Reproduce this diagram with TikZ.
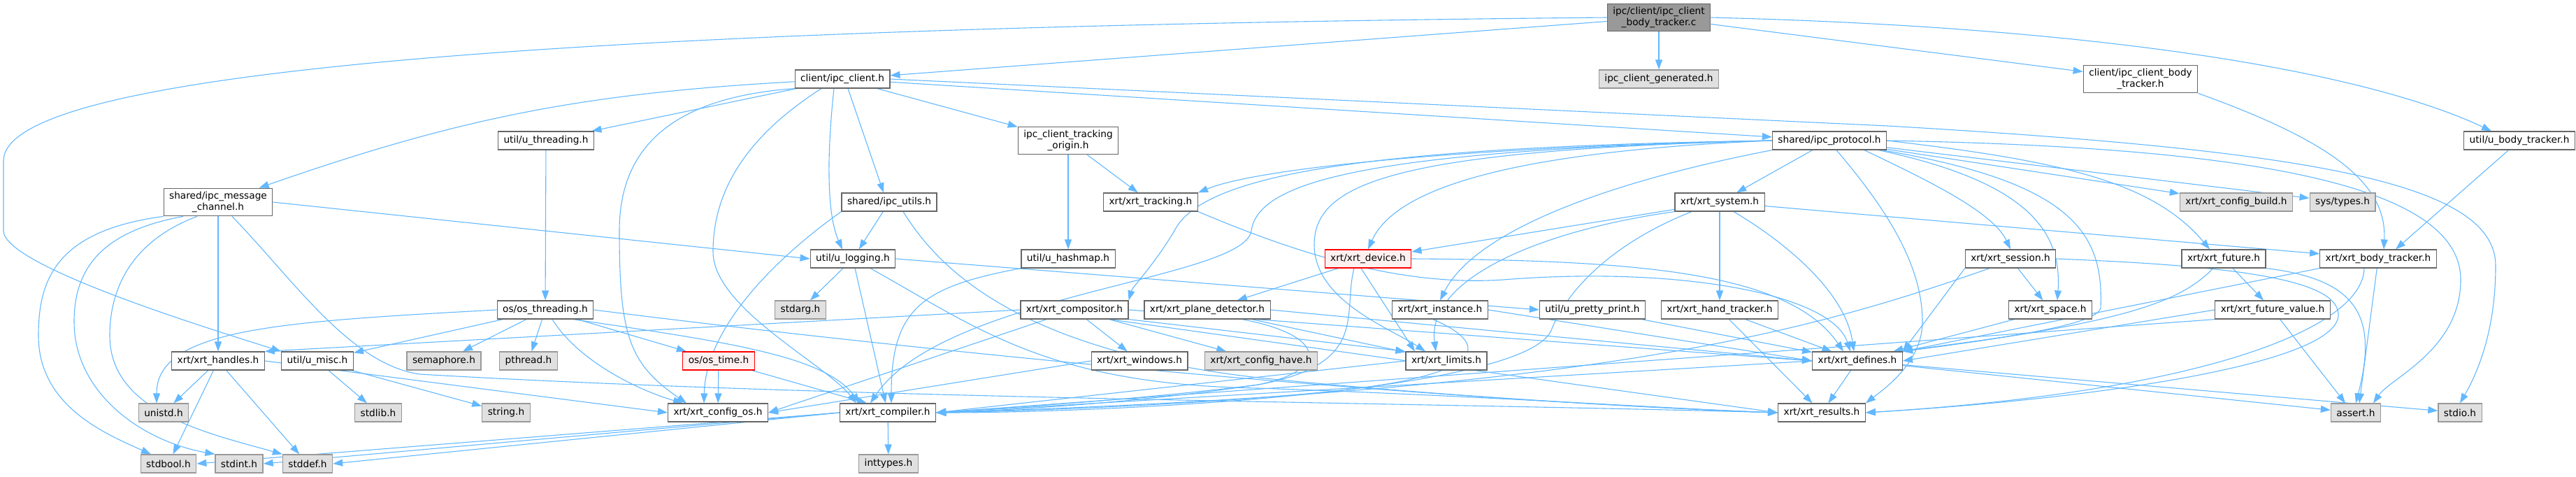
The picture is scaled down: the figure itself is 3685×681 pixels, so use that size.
\documentclass[tikz,border=0pt]{standalone}
\usepackage{fontspec}
\setmainfont{DejaVu Sans}
\usetikzlibrary{arrows.meta}
\pgfdeclarelayer{background}
\pgfsetlayers{background,main}
\definecolor{edgeblue}{HTML}{63B8FF}
\definecolor{nodeborder}{HTML}{666666}
\definecolor{extfill}{HTML}{E0E0E0}
\definecolor{extborder}{HTML}{999999}
\definecolor{rootfill}{HTML}{999999}
\definecolor{truncfill}{HTML}{FFF0F0}
\tikzset{
 fbox/.style={draw=nodeborder, fill=white, line width=1.2pt, inner xsep=8pt, inner ysep=5pt, minimum height=26pt, align=center},
 ext/.style={fbox, draw=extborder, fill=extfill},
 rootn/.style={fbox, fill=rootfill},
 trunc/.style={fbox, draw=red, fill=truncfill},
 edg/.style={draw=edgeblue, line width=1.1pt, -{Triangle[length=14pt,width=10pt]}}
}
\begin{document}
\begin{tikzpicture}[x=1pt,y=-1pt,font=\fontsize{13.7}{16}\selectfont]
\useasboundingbox (0,0) rectangle (3685,681);
% row 0
\node[rootn] (A) at (2373,25) {ipc/client/ipc\_client\\\_body\_tracker.c};
% row 1
\node[fbox] (B) at (1205,113) {client/ipc\_client.h};
\node[ext] (C) at (2373,113) {ipc\_client\_generated.h};
\node[fbox] (D) at (3062,113) {client/ipc\_client\_body\\\_tracker.h};
% row 2
\node[fbox] (H) at (781,201) {util/u\_threading.h};
\node[fbox] (I) at (1528,201) {ipc\_client\_tracking\\\_origin.h};
\node[fbox] (J) at (2617,201) {shared/ipc\_protocol.h};
\node[fbox] (E) at (3604,201) {util/u\_body\_tracker.h};
% row 3
\node[fbox] (G) at (312,289) {shared/ipc\_message\\\_channel.h};
\node[fbox] (K) at (1272,289) {shared/ipc\_utils.h};
\node[fbox] (R) at (1646,289) {xrt/xrt\_tracking.h};
\node[fbox] (T) at (2460,289) {xrt/xrt\_system.h};
\node[ext] (CB) at (3199,289) {xrt/xrt\_config\_build.h};
\node[ext] (ST) at (3351,289) {sys/types.h};
% row 4
\node[fbox] (L) at (1220,370) {util/u\_logging.h};
\node[fbox] (S) at (1528,370) {util/u\_hashmap.h};
\node[trunc] (U) at (1957,370) {xrt/xrt\_device.h};
\node[fbox] (SE) at (2876,370) {xrt/xrt\_session.h};
\node[fbox] (FU) at (3181,370) {xrt/xrt\_future.h};
\node[fbox] (O) at (3402,370) {xrt/xrt\_body\_tracker.h};
% row 5
\node[fbox] (Q) at (780,443) {os/os\_threading.h};
\node[ext] (SA) at (1145,443) {stdarg.h};
\node[fbox] (V) at (1537,443) {xrt/xrt\_compositor.h};
\node[fbox] (PD) at (1727,443) {xrt/xrt\_plane\_detector.h};
\node[fbox] (W) at (2060,443) {xrt/xrt\_instance.h};
\node[fbox] (PP) at (2278,443) {util/u\_pretty\_print.h};
\node[fbox] (HT) at (2460,443) {xrt/xrt\_hand\_tracker.h};
\node[fbox] (SP) at (2933,443) {xrt/xrt\_space.h};
\node[fbox] (FV) at (3251,443) {xrt/xrt\_future\_value.h};
% row 6
\node[fbox] (P) at (312,516) {xrt/xrt\_handles.h};
\node[fbox] (F) at (454,516) {util/u\_misc.h};
\node[ext] (SEM) at (635,516) {semaphore.h};
\node[ext] (PT) at (756,516) {pthread.h};
\node[trunc] (OT) at (1028,516) {os/os\_time.h};
\node[fbox] (WI) at (1630,516) {xrt/xrt\_windows.h};
\node[ext] (CH) at (1804,516) {xrt/xrt\_config\_have.h};
\node[fbox] (X) at (2069,516) {xrt/xrt\_limits.h};
\node[fbox] (Y) at (2657,516) {xrt/xrt\_defines.h};
% row 7
\node[ext] (UN) at (234,590) {unistd.h};
\node[ext] (SL) at (541,590) {stdlib.h};
\node[ext] (STR) at (724,590) {string.h};
\node[fbox] (M) at (1027,590) {xrt/xrt\_config\_os.h};
\node[fbox] (N) at (1270,590) {xrt/xrt\_compiler.h};
\node[fbox] (Z) at (2606,590) {xrt/xrt\_results.h};
\node[ext] (AS) at (3370,590) {assert.h};
\node[ext] (SI) at (3519,590) {stdio.h};
% row 8
\node[ext] (SB) at (241,663) {stdbool.h};
\node[ext] (SN) at (342,663) {stdint.h};
\node[ext] (SD) at (440,663) {stddef.h};
\node[ext] (IT) at (1271,663) {inttypes.h};

\begin{pgfonlayer}{background}
% root
\draw[edg] (A) -- (B);
\draw[edg] (A) -- (C);
\draw[edg] (A) -- (D);
\draw[edg] (A.east) .. controls (3050,40) and (3400,110) .. ([xshift=-40pt]E.north);
\draw[edg] (A.west) .. controls (700,40) and (5,110) .. (5,230) -- (5,330) .. controls (5,380) and (300,470) .. (F.north west);
% client/ipc_client.h
\draw[edg] (B) to[bend right=8] (G);
\draw[edg] (B) -- (H);
\draw[edg] (B) -- (I);
\draw[edg] (B) -- (J);
\draw[edg] ([xshift=8pt]B.south) -- ([xshift=-8pt]K.north);
\draw[edg] ([xshift=-12pt]B.south) .. controls (1185,200) and (1180,300) .. ([xshift=-15pt]L.north);
\draw[edg] (B.south west) .. controls (950,140) and (886,220) .. (886,330) .. controls (886,480) and (900,520) .. ([xshift=-45pt]M.north);
\draw[edg] ([xshift=-30pt]B.south) .. controls (1060,200) and (1020,280) .. (1020,360) .. controls (1020,440) and (1180,520) .. ([xshift=-45pt]N.north);
\draw[edg] (B.east) -- (2700,180) .. controls (3300,215) and (3570,260) .. (3570,380) .. controls (3570,480) and (3540,540) .. (SI.north);
% client body tracker header, u_body_tracker
\draw[edg] (D.south east) .. controls (3330,200) and (3415,260) .. ([xshift=8pt]O.north);
\draw[edg] (E) -- ([xshift=25pt]O.north);
% ipc_message_channel
\draw[edg] (G) -- (P);
\draw[edg] (G.east) -- (L.west);
\draw[edg] (G.south west) .. controls (80,330) and (55,400) .. (55,480) .. controls (55,580) and (150,620) .. ([xshift=-25pt]SB.north);
\draw[edg] ([xshift=-50pt]G.south) .. controls (150,330) and (106,380) .. (106,460) .. controls (106,560) and (200,630) .. (SN.north west);
\draw[edg] ([xshift=-30pt]G.south) .. controls (200,340) and (157,400) .. (157,480) .. controls (157,590) and (300,620) .. (SD.north west);
\draw[edg] ([xshift=20pt]G.south) .. controls (420,400) and (500,520) .. (600,535) .. controls (1200,570) and (2000,575) .. (Z.west);
% threading / tracking origin
\draw[edg] (H) -- (Q);
\draw[edg] (I) -- (R);
\draw[edg] (I) -- (S);
% ipc_utils
\draw[edg] (K) -- (L);
\draw[edg] (K.south west) .. controls (1150,340) and (1010,450) .. ([xshift=-20pt]M.north);
\draw[edg] ([xshift=20pt]K.south) .. controls (1340,380) and (1450,500) .. (1800,540) .. controls (2100,570) and (2400,585) .. (Z.west);
% ipc_protocol
\draw[edg] (J) -- (T);
\draw[edg] (J) -- (CB);
\draw[edg] (J) -- (ST);
\draw[edg] (J.west) .. controls (2100,210) and (1800,240) .. (R.north east);
\draw[edg] (J.west) .. controls (1950,210) and (1720,250) .. (1680,330) .. controls (1650,380) and (1620,410) .. (V.north east);
\draw[edg] (J.west) .. controls (1950,215) and (1800,260) .. (1790,330) .. controls (1780,400) and (1350,420) .. ([xshift=-25pt]N.north);
\draw[edg] (J.west) .. controls (2000,215) and (1880,260) .. (1880,350) .. controls (1880,430) and (1990,470) .. ([xshift=-30pt]X.north);
\draw[edg] (J.west) .. controls (2200,215) and (2000,260) .. (U.north);
\draw[edg] (J.south west) .. controls (2300,260) and (2110,330) .. (W.north);
\draw[edg] ([xshift=50pt]J.south) .. controls (2740,250) and (2850,300) .. (SE.north);
\draw[edg] (J.east) .. controls (2950,230) and (3080,260) .. ([xshift=-20pt]FU.north);
\draw[edg] ([xshift=70pt]J.south) .. controls (2900,260) and (2950,330) .. ([xshift=10pt]SP.north);
\draw[edg] ([xshift=75pt]J.south) .. controls (2960,260) and (3010,330) .. (3005,440) .. controls (3000,470) and (2800,490) .. (Y.north east);
\draw[edg] ([xshift=10pt]J.south) .. controls (2700,300) and (2750,380) .. (2750,460) .. controls (2750,520) and (2690,560) .. (Z.north east);
\draw[edg] (J.east) .. controls (3200,210) and (3520,260) .. (3520,400) .. controls (3520,500) and (3420,540) .. ([xshift=25pt]AS.north);
% xrt_tracking
\draw[edg] (R.south east) .. controls (1850,360) and (2000,410) .. (2150,400) .. controls (2400,380) and (2620,420) .. ([xshift=-10pt]Y.north);
% xrt_system
\draw[edg] (T) -- (U);
\draw[edg] (T) -- (HT);
\draw[edg] (T) -- (O);
\draw[edg] ([xshift=20pt]T.south) .. controls (2560,350) and (2640,420) .. ([xshift=-5pt]Y.north);
\draw[edg] ([xshift=-40pt]T.south) .. controls (2300,350) and (2240,420) .. (2220,470) .. controls (2190,560) and (1600,590) .. (N.east);
\draw[edg] (T.south west) .. controls (2200,330) and (2040,400) .. ([xshift=-15pt]X.north);
% u_logging, u_hashmap
\draw[edg] (L) -- (SA);
\draw[edg] (L) -- (N);
\draw[edg] (L.east) -- (PP.west);
\draw[edg] ([xshift=25pt]L.south) .. controls (1400,470) and (1500,550) .. (1800,555) .. controls (2100,565) and (2400,585) .. (Z.west);
\draw[edg] (S.south west) .. controls (1320,410) and (1275,440) .. ([xshift=5pt]N.north);
% xrt_device
\draw[edg] (U) -- (PD);
\draw[edg] ([xshift=-10pt]U.south) -- ([xshift=-45pt]X.north);
\draw[edg] (U.east) .. controls (2350,372) and (2560,390) .. ([xshift=-20pt]Y.north);
\draw[edg] ([xshift=-20pt]U.south) .. controls (1920,450) and (1960,520) .. (1800,550) .. controls (1600,580) and (1400,588) .. (N.east);
% os_threading
\draw[edg] (Q.west) .. controls (400,460) and (224,470) .. ([xshift=-10pt]UN.north);
\draw[edg] (Q) -- (F);
\draw[edg] (Q) -- (SEM);
\draw[edg] (Q) -- (PT);
\draw[edg] (Q) -- (OT);
\draw[edg] ([xshift=10pt]Q.south) .. controls (830,520) and (920,560) .. ([xshift=-50pt]M.north);
\draw[edg] ([xshift=40pt]Q.south) .. controls (1050,490) and (1180,510) .. ([xshift=-40pt]N.north);
\draw[edg] (Q.east) .. controls (1300,500) and (2000,570) .. (Z.west);
% os_time, u_misc, handles
\draw[edg] (OT) -- (M);
\draw[edg] (OT) -- ([xshift=-30pt]N.north);
\draw[edg] (F) -- (SL);
\draw[edg] (F) -- (STR);
\draw[edg] (P) -- (UN);
\draw[edg] (P) -- (SB);
\draw[edg] (P) -- (SD);
\draw[edg] (P.east) -- (M.west);
% compositor
\draw[edg] (V.west) -- (P.north east);
\draw[edg] (V) -- (WI);
\draw[edg] (V) -- (CH);
\draw[edg] (V.south east) -- (X.north west);
\draw[edg] (V.east) -- (Y.west);
\draw[edg] ([xshift=-40pt]V.south) -- (M.east);
\draw[edg] ([xshift=50pt]V.south) -- (Z.west);
% plane detector
\draw[edg] (PD) -- (X);
\draw[edg] (PD.east) -- (Y.west);
\draw[edg] ([xshift=50pt]PD.south) .. controls (1900,480) and (1900,530) .. (1800,550) .. controls (1600,575) and (1400,585) .. (N.east);
% windows
\draw[edg] (WI.west) -- (M.east);
% instance
\draw[edg] (W.east) -- (Y.west);
\draw[edg] ([xshift=-10pt]W.south) .. controls (2150,500) and (2100,540) .. (1900,560) .. controls (1700,580) and (1450,588) .. (N.east);
% pretty print, hand tracker
\draw[edg] (PP) -- (Y);
\draw[edg] (HT) -- (Y);
\draw[edg] (HT) -- (Z);
% limits, defines
\draw[edg] (X.west) -- (N.east);
\draw[edg] (Y.west) -- (N.east);
\draw[edg] (Y) -- (Z);
\draw[edg] (Y) -- (AS);
\draw[edg] (Y) -- (SI);
% session, space
\draw[edg] (SE) -- (SP);
\draw[edg] (SE.south west) -- (Y.north east);
\draw[edg] ([xshift=-30pt]SE.south) .. controls (2600,470) and (2300,560) .. (N.east);
\draw[edg] (SE.east) .. controls (3200,380) and (3345,400) .. (3345,450) .. controls (3345,520) and (3000,570) .. (Z.east);
\draw[edg] (SP) -- (Y);
% future, future value
\draw[edg] ([xshift=-15pt]FU.south) .. controls (3120,430) and (3050,460) .. (Y.north east);
\draw[edg] (FU) -- (FV);
\draw[edg] (FU.south east) .. controls (3380,400) and (3400,460) .. (AS.north);
\draw[edg] (FV.west) -- (Y.east);
\draw[edg] (FV.south west) -- (N.east);
\draw[edg] (FV) -- ([xshift=-15pt]AS.north);
% body tracker
\draw[edg] (O.south west) -- (Y.north east);
\draw[edg] (O) -- ([xshift=5pt]AS.north);
\draw[edg] ([xshift=-20pt]O.south) .. controls (3380,470) and (3150,560) .. (Z.east);
% compiler
\draw[edg] (N.west) -- (SB.east);
\draw[edg] (N.west) -- (SN.east);
\draw[edg] (N.west) -- (SD.east);
\draw[edg] (N) -- (IT);
\end{pgfonlayer}
\end{tikzpicture}
\end{document}
